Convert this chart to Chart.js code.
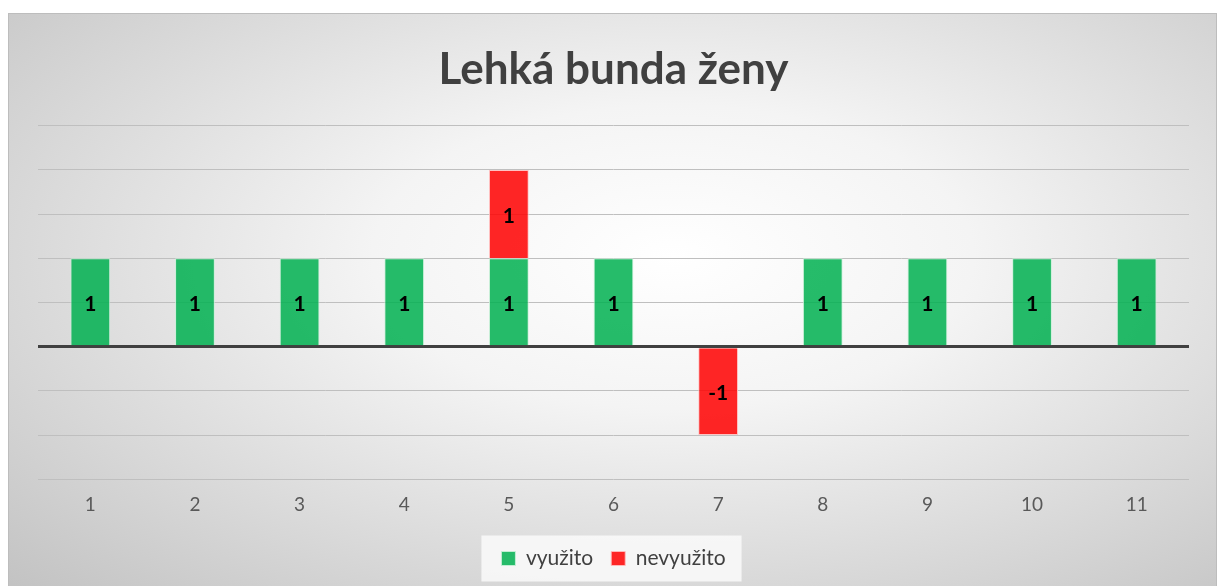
<!DOCTYPE html>
<html lang="cs">
<head>
<meta charset="utf-8">
<title>Lehká bunda ženy</title>
<script src="https://cdn.jsdelivr.net/npm/chart.js@4"></script>
<style>
  html, body { margin: 0; padding: 0; background: #fff; }
  .panel {
    position: absolute;
    left: 8px; top: 13px;
    width: 1209px; height: 580px;
    border: 1px solid #bdbdbd;
    box-sizing: border-box;
    background: radial-gradient(ellipse farthest-corner at 55% 42%, #ffffff 0%, #f4f4f4 32%, #c2c2c2 100%);
  }
  canvas { display: block; }
</style>
</head>
<body>
<div class="panel">
  <canvas id="chart" width="1207" height="578"></canvas>
</div>
<script>
const kategorie = ['1', '2', '3', '4', '5', '6', '7', '8', '9', '10', '11'];
const vyuzito = [1, 1, 1, 1, 1, 1, null, 1, 1, 1, 1];
const nevyuzito = [null, null, null, null, 1, null, -1, null, null, null, null];

const nazev = 'Lehká bunda ženy';
const fontName = 'Lato, "Open Sans", sans-serif';

// popisky hodnot uprostřed sloupců
const hodnotyPlugin = {
    id: 'hodnoty',
    afterDatasetsDraw(chart) {
        const ctx = chart.ctx;
        ctx.save();
        ctx.font = 'bold 21px ' + fontName;
        ctx.fillStyle = '#000';
        ctx.textAlign = 'center';
        ctx.textBaseline = 'middle';
        chart.data.datasets.forEach((ds, i) => {
            const meta = chart.getDatasetMeta(i);
            meta.data.forEach((bar, j) => {
                const v = ds.data[j];
                if (v === null || v === undefined) return;
                const y = (bar.y + bar.base) / 2;
                ctx.fillText(String(v), bar.x, y + 2);
            });
        });
        ctx.restore();
    }
};

// pozadí legendy
const legendaPozadi = {
    id: 'legendaPozadi',
    beforeDraw(chart) {
        const boxes = chart.legend && chart.legend.legendHitBoxes;
        if (!boxes || !boxes.length) return;
        const first = boxes[0];
        const last = boxes[boxes.length - 1];
        const cy = first.top + first.height / 2;
        const ctx = chart.ctx;
        ctx.save();
        ctx.fillStyle = 'rgba(250,250,250,0.85)';
        ctx.fillRect(first.left - 20, cy - 23, (last.left + last.width) - first.left + 36, 46);
        ctx.restore();
    }
};

new Chart(document.getElementById('chart'), {
    type: 'bar',
    data: {
        labels: kategorie,
        datasets: [
            {
                label: 'využito',
                data: vyuzito,
                backgroundColor: 'rgba(0,176,80,0.85)',
                borderColor: 'rgba(200,240,215,0.9)',
                borderWidth: 1,
                barPercentage: 0.38,
                categoryPercentage: 1
            },
            {
                label: 'nevyužito',
                data: nevyuzito,
                backgroundColor: 'rgba(255,0,0,0.85)',
                borderColor: 'rgba(255,190,190,0.9)',
                borderWidth: 1,
                barPercentage: 0.38,
                categoryPercentage: 1
            }
        ]
    },
    options: {
        responsive: false,
        animation: false,
        layout: {
            padding: { left: 29, right: 27, top: 0, bottom: 13 }
        },
        scales: {
            x: {
                stacked: true,
                grid: { display: false, drawTicks: false },
                border: { display: false },
                ticks: {
                    color: '#595959',
                    padding: 14,
                    font: { family: fontName, size: 19 }
                }
            },
            y: {
                stacked: true,
                min: -1.5,
                max: 2.5,
                ticks: { display: false, stepSize: 0.5 },
                border: { display: false },
                grid: {
                    drawTicks: false,
                    color: (c) => c.tick && c.tick.value === 0 ? '#404040' : '#bfbfbf',
                    lineWidth: (c) => c.tick && c.tick.value === 0 ? 3 : 1
                }
            }
        },
        plugins: {
            title: {
                display: true,
                text: nazev,
                color: '#404040',
                font: { family: fontName, size: 44, weight: 'bold' },
                padding: { top: 29, bottom: 30 }
            },
            legend: {
                position: 'bottom',
                labels: {
                    color: '#404040',
                    boxWidth: 14,
                    boxHeight: 14,
                    padding: 18,
                    font: { family: fontName, size: 21 }
                }
            },
            tooltip: { enabled: false }
        }
    },
    plugins: [legendaPozadi, hodnotyPlugin]
});
</script>
</body>
</html>
